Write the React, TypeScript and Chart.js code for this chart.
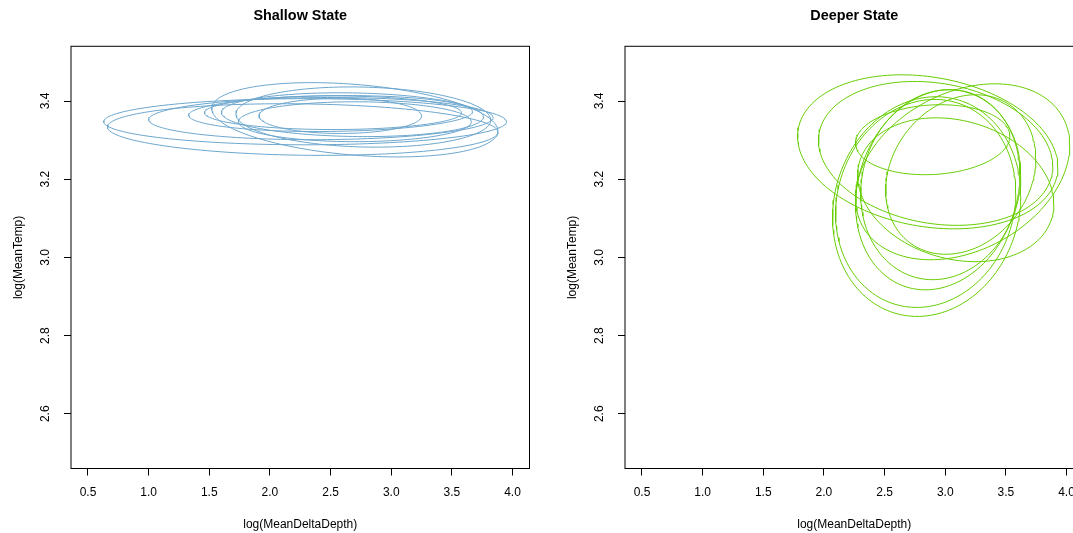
import React, { useEffect, useRef } from "react";
import { Chart, registerables } from "chart.js";

Chart.register(...registerables);

// Axis limits (R default 4% extension of xlim = c(0.5, 4), ylim = c(2.5, 3.5))
const xLimits = [0.36, 4.14];
const yLimits = [2.46, 3.54];
const xTickValues = [0.5, 1.0, 1.5, 2.0, 2.5, 3.0, 3.5, 4.0];
const yTickValues = [2.6, 2.8, 3.0, 3.2, 3.4];

// Shallow state ellipses: centre, spread in x / y, correlation
const shallowCx = [2.29, 2.27, 2.42, 2.5, 2.52, 2.7, 2.68, 2.77, 2.7, 2.58];
const shallowCy = [3.347, 3.327, 3.355, 3.368, 3.37, 3.352, 3.365, 3.359, 3.347, 3.362];
const shallowSx = [1.66, 1.61, 1.42, 1.17, 1.06, 1.18, 1.08, 1.05, 0.96, 0.67];
const shallowSy = [0.059, 0.066, 0.054, 0.046, 0.043, 0.095, 0.056, 0.077, 0.051, 0.045];
const shallowRho = [0.0, -0.1, 0.05, 0.1, 0.0, -0.3, -0.1, -0.1, 0.0, 0.0];

// Deeper state ellipses
const deeperCx = [2.856, 2.921, 2.897, 3.144, 2.847, 2.839, 2.938, 2.963, 3.087, 3.128];
const deeperCy = [3.27, 3.266, 3.301, 3.219, 3.13, 3.138, 3.173, 3.186, 3.173, 3.212];
const deeperSx = [1.073, 0.966, 0.636, 0.883, 0.776, 0.743, 0.677, 0.66, 0.809, 0.619];
const deeperSy = [0.197, 0.184, 0.0895, 0.225, 0.281, 0.266, 0.256, 0.243, 0.184, 0.204];
const deeperRho = [-0.2, -0.18, 0.1, 0.3, 0.1, 0.1, 0.15, 0.1, -0.2, 0.2];

const FONT = "'Liberation Sans', Arial, Helvetica, sans-serif";

function ellipsePoints(cx: number, cy: number, sx: number, sy: number, rho: number) {
  const pts: { x: number; y: number }[] = [];
  const n = 160;
  const k = Math.sqrt(1 - rho * rho);
  for (let i = 0; i <= n; i++) {
    const t = (2 * Math.PI * i) / n;
    pts.push({ x: cx + sx * Math.cos(t), y: cy + sy * (rho * Math.cos(t) + k * Math.sin(t)) });
  }
  return pts;
}

const framePlugin = {
  id: "frame",
  afterDraw(chart: any) {
    const { ctx, chartArea } = chart;
    ctx.save();
    ctx.strokeStyle = "#000";
    ctx.lineWidth = 1;
    ctx.strokeRect(chartArea.left, chartArea.top, chartArea.right - chartArea.left, chartArea.bottom - chartArea.top);
    ctx.restore();
  },
};

function makeConfig(title: string, color: string, cx: number[], cy: number[], sx: number[], sy: number[], rho: number[]) {
  const datasets = cx.map((_, i) => ({
    data: ellipsePoints(cx[i], cy[i], sx[i], sy[i], rho[i]),
    borderColor: color,
    borderWidth: 1,
    pointRadius: 0,
    showLine: true,
    fill: false,
    tension: 0,
  }));
  return {
    type: "scatter" as const,
    data: { datasets },
    plugins: [framePlugin],
    options: {
      responsive: false,
      animation: false as const,
      devicePixelRatio: 1,
      events: [],
      layout: { padding: { left: 0, right: 36.5, top: 0, bottom: 0 } },
      plugins: {
        legend: { display: false },
        tooltip: { enabled: false },
        title: {
          display: true,
          text: title,
          fullSize: false,
          color: "#000",
          font: { family: FONT, size: 14.4, weight: "bold" as const, lineHeight: 1.2 },
          padding: { top: 7, bottom: 22 },
        },
      },
      scales: {
        x: {
          type: "linear" as const,
          min: xLimits[0],
          max: xLimits[1],
          border: { display: false },
          grid: { drawOnChartArea: false, drawTicks: true, tickLength: 7, color: "#000", lineWidth: 1 },
          afterBuildTicks: (s: any) => {
            s.ticks = xTickValues.map((v) => ({ value: v }));
          },
          afterFit: (s: any) => {
            s.height = 64.5;
          },
          ticks: {
            color: "#000",
            font: { family: FONT, size: 12 },
            padding: 10,
            maxRotation: 0,
            minRotation: 0,
            autoSkip: false,
            callback: (v: any) => Number(v).toFixed(1),
          },
          title: {
            display: true,
            text: "log(MeanDeltaDepth)",
            color: "#000",
            font: { family: FONT, size: 12, lineHeight: 1.2 },
            padding: { top: 0, bottom: 1 },
          },
        },
        y: {
          type: "linear" as const,
          min: yLimits[0],
          max: yLimits[1],
          border: { display: false },
          grid: { drawOnChartArea: false, drawTicks: true, tickLength: 7, color: "#000", lineWidth: 1 },
          afterBuildTicks: (s: any) => {
            s.ticks = yTickValues.map((v) => ({ value: v }));
          },
          afterFit: (s: any) => {
            s.width = 71;
          },
          ticks: {
            color: "#000",
            font: { family: FONT, size: 12 },
            padding: 9.7,
            minRotation: 90,
            maxRotation: 90,
            crossAlign: "center" as const,
            autoSkip: false,
            callback: (v: any) => Number(v).toFixed(1),
          },
          title: {
            display: true,
            text: "log(MeanTemp)",
            color: "#000",
            font: { family: FONT, size: 12, lineHeight: 1.2 },
            padding: { top: 11, bottom: 0 },
          },
        },
      },
    },
  };
}

export default function App() {
  const leftRef = useRef<HTMLCanvasElement | null>(null);
  const rightRef = useRef<HTMLCanvasElement | null>(null);

  useEffect(() => {
    const c1 = new Chart(
      leftRef.current as HTMLCanvasElement,
      makeConfig("Shallow State", "#6CA6CD", shallowCx, shallowCy, shallowSx, shallowSy, shallowRho) as any
    );
    const c2 = new Chart(
      rightRef.current as HTMLCanvasElement,
      makeConfig("Deeper State", "#66CD00", deeperCx, deeperCy, deeperSx, deeperSy, deeperRho) as any
    );
    return () => {
      c1.destroy();
      c2.destroy();
    };
  }, []);

  return (
    <div style={{ position: "fixed", left: 0, top: 0, width: 1073, height: 533, overflow: "hidden", background: "#fff" }}>
      <canvas ref={leftRef} width={566} height={533} style={{ position: "absolute", left: 0, top: 0, width: 566, height: 533 }} />
      <canvas ref={rightRef} width={566} height={533} style={{ position: "absolute", left: 553.7, top: 0, width: 566, height: 533 }} />
    </div>
  );
}
